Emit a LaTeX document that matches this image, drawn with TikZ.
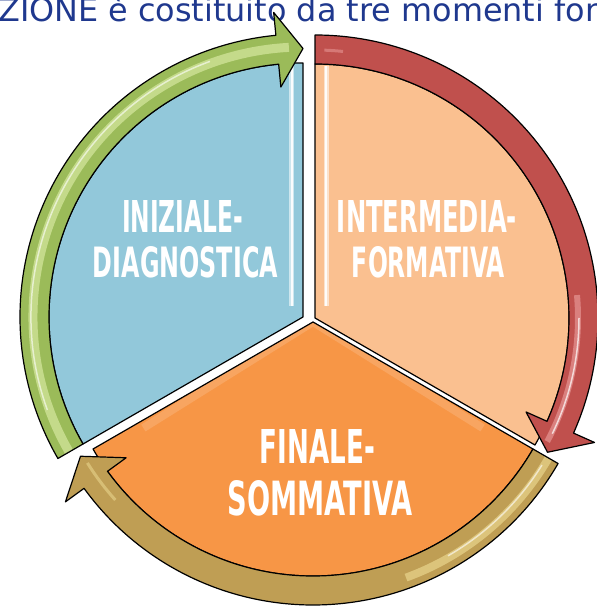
\documentclass[tikz,border=0pt]{standalone}
\usepackage{fontspec}
\usepackage{graphicx}
\newfontfamily\labfont{DejaVu Sans}
\newfontfamily\titfont{DejaVu Sans}
\definecolor{blueS}{RGB}{146,200,218}
\definecolor{peachS}{RGB}{250,192,144}
\definecolor{orangeS}{RGB}{247,150,70}
\definecolor{greenA}{RGB}{155,187,89}
\definecolor{greenL}{RGB}{214,232,160}
\definecolor{redA}{RGB}{192,80,77}
\definecolor{redL}{RGB}{236,160,160}
\definecolor{goldA}{RGB}{191,158,84}
\definecolor{goldL}{RGB}{240,222,150}
\definecolor{titleC}{RGB}{31,56,142}
\begin{document}
\begin{tikzpicture}[x=1pt,y=1pt,
  lab/.style={inner sep=0pt, text=white, font=\labfont\bfseries},
  outl/.style={draw=black, line width=1.2pt, line join=round}]
\useasboundingbox (0,0) rectangle (597,606);
\coordinate (B) at (303,289);
\coordinate (P) at (315,288);
\coordinate (O) at (313,284);
% title
\node[inner sep=0pt, anchor=base west, text=titleC] (title) at (-2,584)
  {\resizebox{607pt}{!}{\titfont\fontsize{28pt}{30pt}\selectfont ZIONE è costituito da tre momenti fon}};
% sectors
\def\bluep{(B) -- ([shift={(B)}]90:254pt) arc[start angle=90,end angle=210,radius=254pt] -- cycle}
\def\peachp{(P) -- ([shift={(P)}]-30:254pt) arc[start angle=-30,end angle=90,radius=254pt] -- cycle}
\def\orangep{(O) -- ([shift={(O)}]210:254pt) arc[start angle=210,end angle=330,radius=254pt] -- cycle}
\fill[blueS] \bluep;
\fill[peachS] \peachp;
\fill[orangeS] \orangep;
\begin{scope}
\clip \bluep;
\draw[white, line width=5pt, opacity=.55] (291,540) -- (291,300);
\draw[white, line width=1.5pt, opacity=.9] (292,540) -- (292,300);
\end{scope}
\begin{scope}
\clip \peachp;
\draw[white, line width=5pt, opacity=.55] (326,540) -- (326,300);
\draw[white, line width=1.5pt, opacity=.9] (326,540) -- (326,300);
\end{scope}
\begin{scope}
\clip \orangep;
\draw[white, line width=8pt, opacity=.15] ([shift={(O)}]212:200pt) -- (O) -- ([shift={(O)}]328:200pt);
\end{scope}
\draw[outl] \bluep;
\draw[outl] \peachp;
\draw[outl] \orangep;
% arrows
\def\greenp{([shift={(B)}]210:283pt) arc[start angle=210,end angle=95.5,radius=283pt] -- ([shift={(B)}]95.5:306pt) -- ([shift={(B)}]90:268.5pt) -- ([shift={(B)}]95.5:231pt) -- ([shift={(B)}]95.5:254pt) arc[start angle=95.5,end angle=210,radius=254pt] -- cycle}
\def\redp{([shift={(P)}]90:283pt) arc[start angle=90,end angle=-24,radius=283pt] -- ([shift={(P)}]-24:306pt) -- ([shift={(P)}]-30:268.5pt) -- ([shift={(P)}]-24:231pt) -- ([shift={(P)}]-24:254pt) arc[start angle=-24,end angle=90,radius=254pt] -- cycle}
\def\goldp{([shift={(O)}]330:283pt) arc[start angle=330,end angle=216,radius=283pt] -- ([shift={(O)}]216:306pt) -- ([shift={(O)}]210:268.5pt) -- ([shift={(O)}]216:231pt) -- ([shift={(O)}]216:254pt) arc[start angle=216,end angle=330,radius=254pt] -- cycle}
\fill[goldA] \goldp;
\begin{scope}
\clip \goldp;
\draw[goldL, line width=8pt, opacity=.6] ([shift={(O)}]330:272pt) arc[start angle=330,end angle=290,radius=272pt];
\draw[white, line width=1.5pt, opacity=.6] ([shift={(O)}]328:270pt) arc[start angle=328,end angle=300,radius=270pt];
\draw[goldL, line width=3pt, opacity=.5] ([shift={(O)}]222:266pt) arc[start angle=222,end angle=212,radius=266pt];
\end{scope}
\draw[outl] \goldp;
\fill[greenA] \greenp;
\begin{scope}
\clip \greenp;
\draw[greenL, line width=9pt, opacity=.7] ([shift={(B)}]212:270pt) arc[start angle=212,end angle=93,radius=270pt];
\draw[white, line width=1.5pt, opacity=.6] ([shift={(B)}]200:272pt) arc[start angle=200,end angle=110,radius=272pt];
\end{scope}
\draw[outl] \greenp;
\fill[redA] \redp;
\begin{scope}
\clip \redp;
\draw[redL, line width=6pt, opacity=.6] ([shift={(P)}]5:263pt) arc[start angle=5,end angle=-28,radius=263pt];
\draw[white, line width=1.5pt, opacity=.7] ([shift={(P)}]0:264pt) arc[start angle=0,end angle=-26,radius=264pt];
\draw[redL, line width=3pt, opacity=.5] ([shift={(P)}]88:268pt) arc[start angle=88,end angle=84,radius=268pt];
\end{scope}
\draw[outl] \redp;
% labels
\node[lab] (l1) at (182.5,390) {\resizebox{121pt}{32pt}{INIZIALE-}};
\node[lab] (l2) at (185.5,343.5) {\resizebox{185pt}{31pt}{DIAGNOSTICA}};
\node[lab] (l3) at (427,390) {\resizebox{180pt}{32pt}{INTERMEDIA-}};
\node[lab] (l4) at (428.5,343.5) {\resizebox{153pt}{31pt}{FORMATIVA}};
\node[lab] (l5) at (317.5,159.5) {\resizebox{115pt}{34pt}{FINALE-}};
\node[lab] (l6) at (320.5,107.5) {\resizebox{185pt}{35pt}{SOMMATIVA}};
\end{tikzpicture}
\end{document}
